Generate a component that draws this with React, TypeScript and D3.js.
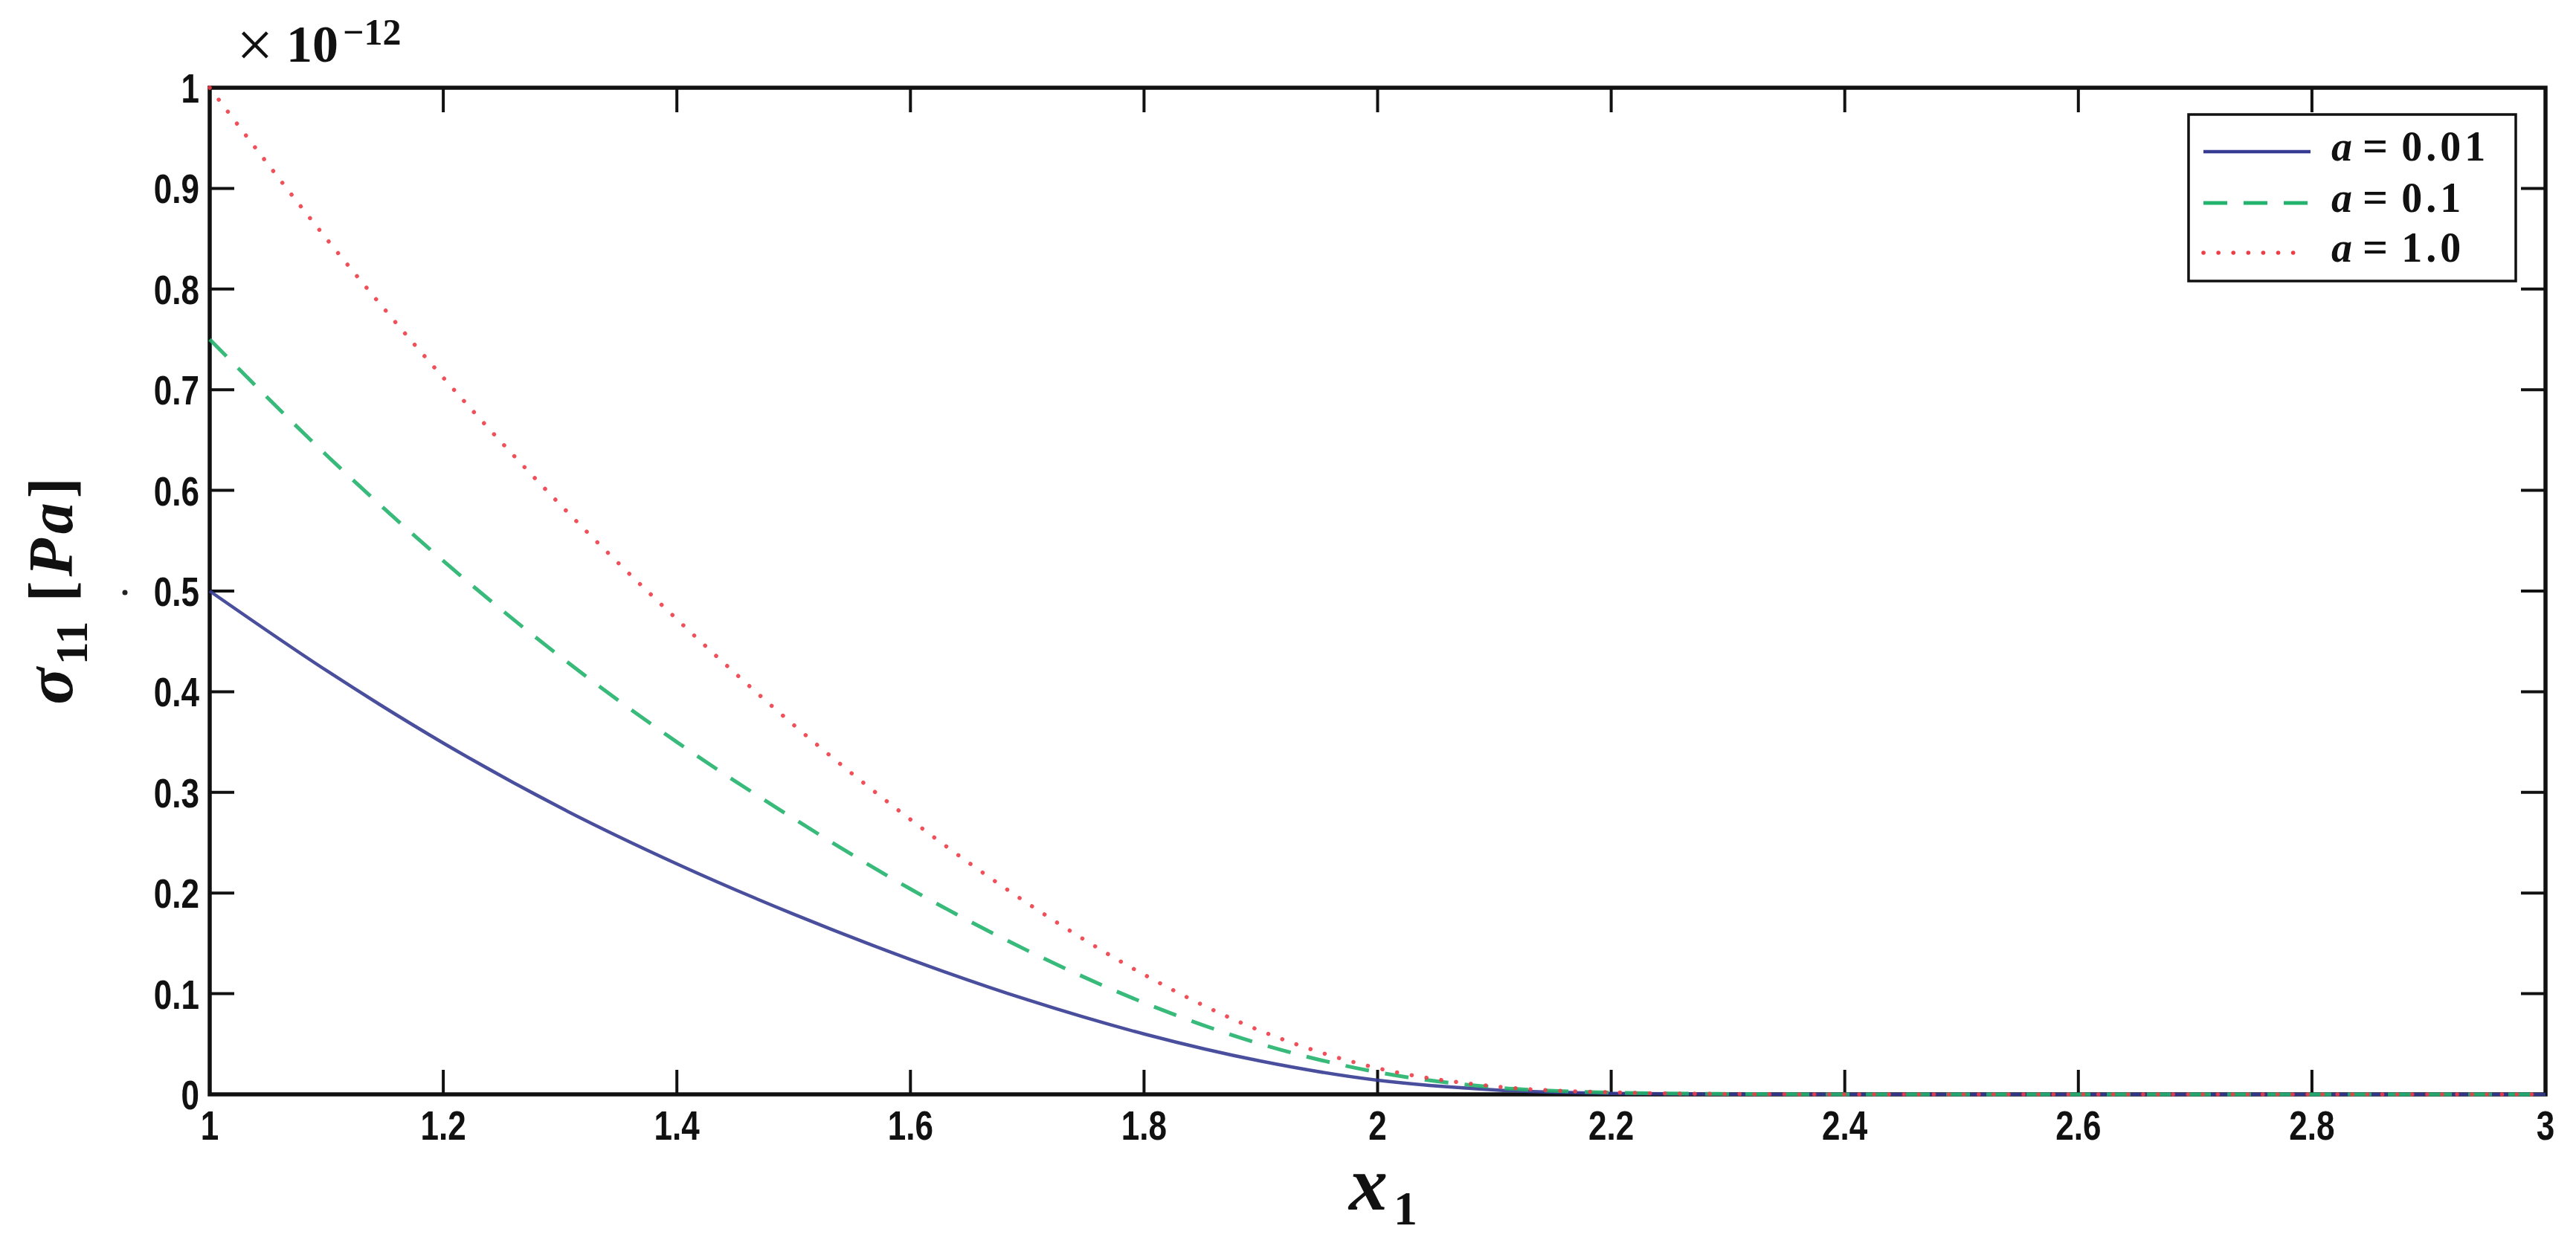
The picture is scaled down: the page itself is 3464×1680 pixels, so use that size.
import React from 'react';
import * as d3 from 'd3';

// ---- data ----
const xValues = [1.0, 1.1, 1.2, 1.3, 1.4, 1.5, 1.6, 1.7, 1.8, 1.9, 2.0, 2.1, 2.2, 2.3, 2.4, 2.5, 2.6, 2.7, 2.8, 2.9, 3.0];
const seriesA001 = [0.5, 0.421, 0.349, 0.285, 0.229, 0.179, 0.134, 0.094, 0.06, 0.033, 0.014, 0.0045, 0.001, 0.0002, 0, 0, 0, 0, 0, 0, 0];
const seriesA01 = [0.75, 0.635, 0.53, 0.435, 0.35, 0.274, 0.204, 0.143, 0.091, 0.05, 0.022, 0.007, 0.0018, 0.0004, 0, 0, 0, 0, 0, 0, 0];
const seriesA10 = [1.0, 0.85, 0.712, 0.586, 0.472, 0.367, 0.273, 0.19, 0.119, 0.063, 0.026, 0.008, 0.002, 0.0004, 0, 0, 0, 0, 0, 0, 0];
const legendNumbers = ['0.01', '0.1', '1.0'];
const seriesColors = ['#363c92', '#22b36c', '#ee3d47'];
const xTicks = [1, 1.2, 1.4, 1.6, 1.8, 2, 2.2, 2.4, 2.6, 2.8, 3];
const xTickLabels = ['1', '1.2', '1.4', '1.6', '1.8', '2', '2.2', '2.4', '2.6', '2.8', '3'];
const yTicks = [0, 0.1, 0.2, 0.3, 0.4, 0.5, 0.6, 0.7, 0.8, 0.9, 1];
const yTickLabels = ['0', '0.1', '0.2', '0.3', '0.4', '0.5', '0.6', '0.7', '0.8', '0.9', '1'];

const W = 3464;
const H = 1680;
const L = 282, R = 3423, T = 118, B = 1472;

const x = d3.scaleLinear().domain([1, 3]).range([L, R]);
const y = d3.scaleLinear().domain([0, 1]).range([B, T]);

const seriesList = [seriesA001, seriesA01, seriesA10];
const dashes = [null, '32 22', '0.1 20'];
const widths = [4.5, 5, 5.5];
const caps: any[] = ['butt', 'butt', 'round'];

const line = d3
  .line<number>()
  .x((_, i) => x(xValues[i]))
  .y((d) => y(d))
  .curve(d3.curveMonotoneX);

const TICK = 33;
const sansFont = "'Liberation Sans', Arial, sans-serif";
const serifFont = "'Liberation Serif', 'Times New Roman', serif";

export default function App() {
  const legendRows = [204, 273, 340];
  return (
    <svg
      width={W}
      height={H}
      viewBox={`0 0 ${W} ${H}`}
      style={{ position: 'absolute', left: 0, top: 0, background: '#fff' }}
    >
      <rect x={0} y={0} width={W} height={H} fill="#fff" />

      {/* ticks (inward, mirrored on top/right) */}
      <g stroke="#111" strokeWidth={4}>
        {xTicks.map((t, i) => (
          <g key={'xt' + i}>
            <line x1={x(t)} x2={x(t)} y1={B} y2={B - TICK} />
            <line x1={x(t)} x2={x(t)} y1={T} y2={T + TICK} />
          </g>
        ))}
        {yTicks.map((t, i) => (
          <g key={'yt' + i}>
            <line x1={L} x2={L + TICK} y1={y(t)} y2={y(t)} />
            <line x1={R} x2={R - TICK} y1={y(t)} y2={y(t)} />
          </g>
        ))}
      </g>

      {/* box */}
      <rect x={L} y={T} width={R - L} height={B - T} fill="none" stroke="#111" strokeWidth={5.5} />

      {/* curves */}
      <g>
        {seriesList.map((s, i) => (
          <path
            key={i}
            d={line(s) || ''}
            fill="none"
            stroke={seriesColors[i]}
            strokeWidth={widths[i]}
            strokeDasharray={dashes[i] || undefined}
            strokeLinecap={caps[i]}
            opacity={0.9}
          />
        ))}
      </g>

      {/* tick labels */}
      <g fontFamily={sansFont} fontWeight="bold" fontSize={55} fill="#111">
        {xTicks.map((t, i) => (
          <text key={'xl' + i} transform={`translate(${x(t)},1533) scale(0.8,1)`} textAnchor="middle">
            {xTickLabels[i]}
          </text>
        ))}
        {yTicks.map((t, i) => (
          <text key={'yl' + i} transform={`translate(268,${y(t) + 20}) scale(0.8,1)`} textAnchor="end">
            {yTickLabels[i]}
          </text>
        ))}
      </g>

      {/* exponent */}
      <g fill="#111" fontFamily={serifFont}>
        <text x={318} y={90} fontSize={88}>×</text>
        <text x={385} y={83} fontSize={70} fontWeight="bold">10</text>
        <text x={461} y={60} fontSize={50} fontWeight="bold">−12</text>
      </g>

      {/* y label */}
      <g transform={`translate(97,${(T + B) / 2}) rotate(-90)`} fill="#111" fontFamily={serifFont} fontWeight="bold">
        <text textAnchor="middle" fontSize={84}>
          <tspan fontStyle="italic" fontSize={92}>σ</tspan>
          <tspan fontSize={62} dx={4} dy={20}>11</tspan>
          <tspan dx={26} dy={-20}>[</tspan>
          <tspan fontStyle="italic" dx={6}>P</tspan>
          <tspan fontStyle="italic" dx={6}>a</tspan>
          <tspan dx={6}>]</tspan>
        </text>
      </g>
      <circle cx={168} cy={797} r={3.5} fill="#222" />

      {/* x label */}
      <text x={1814} y={1627} fill="#111" fontFamily={serifFont} fontWeight="bold" fontSize={104}>
        <tspan fontStyle="italic">x</tspan>
        <tspan fontSize={64} dx={8} dy={20}>1</tspan>
      </text>

      {/* legend */}
      <rect x={2943} y={154} width={440} height={224} fill="#fff" stroke="#111" strokeWidth={3.5} />
      {legendRows.map((ry, i) => (
        <g key={'lg' + i}>
          <line
            x1={2963}
            x2={i === 2 ? 3090 : 3107}
            y1={ry}
            y2={ry}
            stroke={seriesColors[i]}
            strokeWidth={widths[i]}
            strokeDasharray={dashes[i] || undefined}
            strokeLinecap={caps[i]}
          />
          <text
            x={3135}
            y={ry + 12}
            fill="#111"
            fontFamily={serifFont}
            fontWeight="bold"
            fontSize={56}
          >
            <tspan fontStyle="italic">a</tspan>
            <tspan dx={14} fontSize={60}>=</tspan>
            <tspan dx={18} letterSpacing={5}>{legendNumbers[i]}</tspan>
          </text>
        </g>
      ))}
    </svg>
  );
}
